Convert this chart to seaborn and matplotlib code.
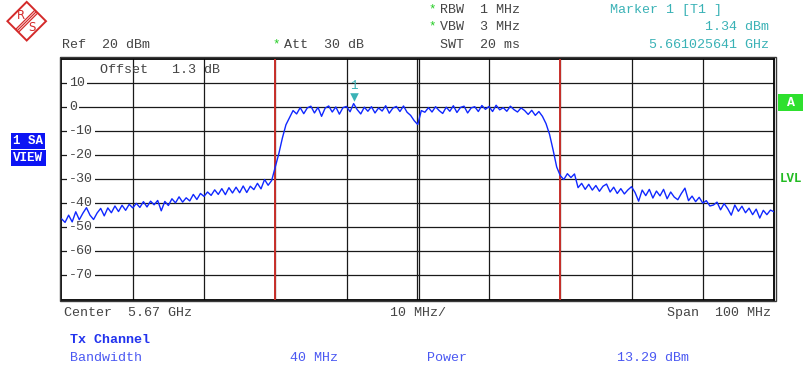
import numpy as np
import pandas as pd
import matplotlib
matplotlib.use("Agg")
import matplotlib.pyplot as plt
from matplotlib.patches import Polygon, Rectangle
from matplotlib.transforms import offset_copy, blended_transform_factory
import seaborn as sns

# ---------------- data ----------------
center_ghz = 5.67
span_ghz = 0.100
ref_level = 20
y_min = -80
y_ticks = [10, 0, -10, -20, -30, -40, -50, -60, -70]
channel_edges_ghz = [5.65, 5.69]

# trace levels (dBm), 201 sweep points across the 100 MHz span (0.5 MHz step)
level_0_10 = [-46.5, -48.0, -45.0, -47.8, -43.6, -46.9, -44.2, -41.9, -45.0, -46.8,
              -44.1, -42.2, -45.3, -42.0, -44.0, -41.2, -43.5, -40.9, -43.0, -40.5]
level_10_20 = [-42.0, -40.1, -41.8, -39.4, -41.6, -39.2, -40.7, -38.9, -43.2, -39.3,
               -41.0, -38.2, -39.9, -37.4, -39.6, -37.8, -39.1, -36.4, -38.5, -36.0]
level_20_30 = [-37.2, -35.4, -36.8, -34.5, -36.4, -34.0, -36.5, -33.6, -35.8, -33.4,
               -35.7, -32.9, -35.6, -33.0, -34.4, -31.8, -34.1, -30.2, -32.6, -30.6]
level_30_40 = [-25.0, -19.5, -13.0, -7.5, -4.5, -1.6, -3.0, -0.4, -2.9, -0.5,
               0.2, -2.6, -0.3, -4.0, -0.6, 0.3, -2.2, -0.1, -3.1, -0.4]
level_40_50 = [0.1, -2.1, 1.3, -1.2, -3.0, -0.2, -1.9, 0.0, -2.6, -0.5,
               -1.8, 0.4, -2.7, -0.6, 0.1, -2.0, 0.3, -2.3, -3.6, -5.8]
level_50_60 = [-7.4, -1.6, -2.3, -0.4, -2.2, 0.0, -1.6, -2.8, -0.2, -1.9,
               0.4, -2.4, -0.3, 0.2, -2.6, -0.5, 0.0, -2.0, 0.5, -1.1]
level_60_70 = [0.1, -2.0, 0.6, -1.3, -0.4, -1.9, 0.2, -1.2, -2.2, -0.5,
               -1.6, -3.2, -1.5, -3.6, -2.0, -4.0, -7.0, -11.5, -18.0, -25.0]
level_70_80 = [-28.6, -30.2, -27.8, -29.4, -27.9, -33.6, -31.8, -34.3, -32.2, -34.6,
               -32.7, -35.1, -33.0, -32.1, -35.4, -33.4, -36.0, -34.0, -36.2, -34.5]
level_80_90 = [-33.2, -35.6, -39.2, -34.6, -36.9, -34.3, -37.9, -35.0, -37.0, -34.3,
               -38.2, -35.4, -37.5, -38.6, -36.0, -33.8, -39.0, -37.1, -39.4, -37.6]
level_90_100 = [-40.0, -39.0, -41.2, -40.8, -39.6, -42.8, -40.2, -42.3, -45.0, -40.8,
                -43.4, -41.3, -44.0, -42.1, -44.8, -42.5, -46.2, -43.0, -44.8, -42.9, -43.6]

levels = (level_0_10 + level_10_20 + level_20_30 + level_30_40 + level_40_50 +
          level_50_60 + level_60_70 + level_70_80 + level_80_90 + level_90_100)
freqs = np.linspace(center_ghz - span_ghz / 2, center_ghz + span_ghz / 2, len(levels))

marker_freq = [5.661025641]
marker_level = [1.34]

# ---------------- style ----------------
sns.set_style("white")
plt.rcParams['font.family'] = ['Liberation Mono', 'DejaVu Sans']

W, H = 804, 371
fig = plt.figure(figsize=(W / 100, H / 100), dpi=100)
fig.patch.set_facecolor("white")

# plot area in pixels
px_l, px_r, px_t, px_b = 61.5, 774.0, 58.5, 299.5
ax = fig.add_axes([px_l / W, 1 - px_b / H, (px_r - px_l) / W, (px_b - px_t) / H])

df = pd.DataFrame({"freq": freqs, "level": levels})
sns.lineplot(data=df, x="freq", y="level", color="#1028ff", linewidth=1.0, ax=ax,
             zorder=5, sort=False)

x0 = center_ghz - span_ghz / 2
x1 = center_ghz + span_ghz / 2
ax.set_xlim(x0, x1)
ax.set_ylim(y_min, ref_level)
ax.set_xticks([])
ax.set_yticks([])
ax.set_xlabel("")
ax.set_ylabel("")

grid_col = "#1a1a1a"
for i in range(1, 10):
    xv = x0 + i * span_ghz / 10
    if i == 5:
        ax.axvline(xv - 0.00012, color=grid_col, lw=0.9, zorder=1)
        ax.axvline(xv + 0.00012, color=grid_col, lw=0.9, zorder=1)
    else:
        ax.axvline(xv, color=grid_col, lw=0.9, zorder=1)
for yv in y_ticks:
    ax.axhline(yv, color=grid_col, lw=0.9, zorder=1)

for ce in channel_edges_ghz:
    ax.axvline(ce, color="#c8302a", lw=1.4, zorder=3)

for s in ax.spines.values():
    s.set_color("black")
    s.set_linewidth(1.3)

lab_col = "#444444"
fs = 9.6
trans_lab = blended_transform_factory(ax.transAxes, ax.transData)
for yv in y_ticks:
    ax.text(0.0105, yv, f"{yv}", transform=trans_lab, ha="left", va="center",
            fontsize=fs, color=lab_col, zorder=4,
            bbox=dict(boxstyle="square,pad=0.12", fc="white", ec="none"))

ax.text(0.054, 0.953, "Offset   1.3 dB", transform=ax.transAxes, ha="left",
        va="center", fontsize=fs, color=lab_col, zorder=4)

# marker
teal = "#3ab2b6"
tri_tr = offset_copy(ax.transData, fig=fig, x=0, y=6.5, units="dots")
ax.scatter(marker_freq, marker_level, marker="v", s=38, color=teal,
           transform=tri_tr, zorder=6, linewidths=0)
num_tr = offset_copy(ax.transData, fig=fig, x=0, y=17, units="dots")
ax.text(marker_freq[0], marker_level[0], "1", transform=num_tr, ha="center",
        va="center", fontsize=9, color=teal, zorder=6)

# ---------------- overlay (pixel coordinates) ----------------
ov = fig.add_axes([0, 0, 1, 1], facecolor="none")
ov.set_xlim(0, W)
ov.set_ylim(H, 0)
ov.axis("off")
ov.set_zorder(10)

# outer frame line
ov.add_patch(Rectangle((59.6, 56.6), 776.2 - 59.6, 301.4 - 56.6, fill=False,
                       ec="#3a3a3a", lw=1.0))


def t(x, y, s, color=lab_col, ha="left", size=fs, weight="normal", **kw):
    ov.text(x, y, s, ha=ha, va="center", fontsize=size, color=color,
            fontweight=weight, **kw)


green_star = "#22cc22"
t(272, 44, "*", color=green_star, size=9)
t(62, 45, "Ref  20 dBm")
t(284, 45, "Att  30 dB")
t(428, 9, "*", color=green_star, size=9)
t(440, 10, "RBW  1 MHz")
t(428, 26, "*", color=green_star, size=9)
t(440, 27.5, "VBW  3 MHz")
t(440, 45, "SWT  20 ms")

t(610, 10, "Marker 1 [T1 ]", color=teal)
t(769, 27.5, "1.34 dBm", color=teal, ha="right")
t(769, 45, "5.661025641 GHz", color=teal, ha="right")

t(64, 313, "Center  5.67 GHz")
t(390, 313, "10 MHz/")
t(771, 313, "Span  100 MHz", ha="right")

blue_txt = "#4a58f2"
t(70, 340, "Tx Channel", color="#2233ee", weight="bold")
t(70, 358, "Bandwidth", color=blue_txt)
t(290, 358, "40 MHz", color=blue_txt)
t(427, 358, "Power", color=blue_txt)
t(617, 358, "13.29 dBm", color=blue_txt)

# left info boxes
box_blue = "#0c14f4"
ov.add_patch(Rectangle((11, 133), 34, 16, color=box_blue, lw=0))
ov.add_patch(Rectangle((11, 150), 35.5, 16, color=box_blue, lw=0))
t(13, 141, "1 SA", color="white", weight="bold", size=9)
t(12.5, 158, "VIEW", color="white", weight="bold", size=9)

# right info
ov.add_patch(Rectangle((778, 94), 26, 17, color="#2ee02e", lw=0))
t(791, 102.5, "A", color="white", weight="bold", ha="center", size=9.5)
t(780, 179.5, "LVL", color="#22bb22", weight="bold", size=9)

# R&S logo
red = "#d42a2a"
cx, cy, r = 26.7, 21.2, 19.3
ov.add_patch(Polygon([(cx, cy - r), (cx + r, cy), (cx, cy + r), (cx - r, cy)],
                     closed=True, fill=False, ec=red, lw=1.4))
for d in (-2.0, 0.0, 2.0):
    ov.plot([cx - r / 2 + d * 0.707, cx + r / 2 + d * 0.707],
            [cy + r / 2 + d * 0.707, cy - r / 2 + d * 0.707],
            color=red, lw=0.9, solid_capstyle="butt")
ov.text(cx - 5.5, cy - 6, "R", color=red, fontsize=8.5, ha="center", va="center",
        family="DejaVu Sans")
ov.text(cx + 5, cy + 6.5, "S", color=red, fontsize=8.5, ha="center", va="center",
        family="DejaVu Sans")

fig.savefig("out.png", dpi=100, facecolor="white")
